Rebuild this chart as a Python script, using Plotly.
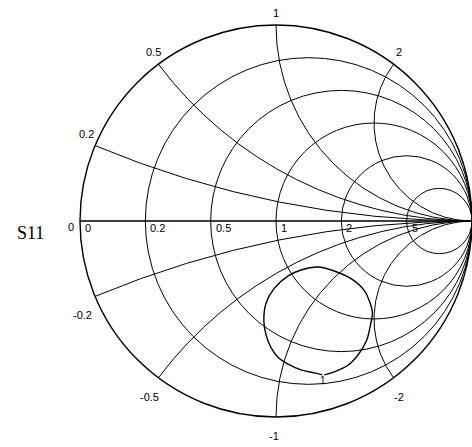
import numpy as np
import plotly.graph_objects as go

# Grid values of the Smith chart
resistance_ticks = [0, 0.2, 0.5, 1, 2, 5]
reactance_ticks = [-2, -1, -0.5, -0.2, 0.2, 0.5, 1, 2]

# S11 locus, read as reflection coefficient (real part, imaginary part)
s11_re = [0.246, 0.297, 0.369, 0.421, 0.462, 0.482, 0.492, 0.477, 0.451, 0.385,
          0.297, 0.215, 0.128, 0.062, -0.010, -0.051, -0.062, -0.051, -0.026,
          0.010, 0.062, 0.128, 0.195, 0.236]
s11_im = [-0.785, -0.770, -0.735, -0.680, -0.610, -0.530, -0.470, -0.410, -0.355,
          -0.295, -0.255, -0.235, -0.250, -0.280, -0.345, -0.420, -0.510, -0.580,
          -0.645, -0.695, -0.730, -0.760, -0.775, -0.785]

gamma = np.array(s11_re) + 1j * np.array(s11_im)
z = (1 + gamma) / (1 - gamma)

fig = go.Figure()
fig.add_trace(go.Scattersmith(
    real=z.real, imag=z.imag, mode="lines",
    line=dict(color="black", width=1.4, shape="spline"),
    showlegend=False, hoverinfo="skip",
))

W, H = 472, 447
cx, cy, rad = 276, 221, 196
label_font = dict(family="Liberation Sans, Arial, sans-serif", size=11, color="black")


def px_x(g):
    return (cx + g * rad) / W


def py_y(v):
    return 1 - v / H


annotations = []
# resistance labels sit just right of each circle's crossing with the real axis
for r in resistance_ticks:
    g = (r - 1) / (r + 1)
    annotations.append(dict(
        text=f"{r:g}", x=px_x(g) + 3 / W, y=py_y(228), xref="paper", yref="paper",
        xanchor="left", yanchor="middle", showarrow=False, font=label_font))
# zero reactance label on the outer rim
annotations.append(dict(
    text="0", x=px_x(-1) - 4 / W, y=py_y(227), xref="paper", yref="paper",
    xanchor="right", yanchor="middle", showarrow=False, font=label_font))
# reactance labels just outside the rim, where each arc meets it
for xv in reactance_ticks:
    g = (1j * xv - 1) / (1j * xv + 1)
    rim_x = cx + g.real * rad
    rim_y = cy - g.imag * rad
    if xv > 0:
        lx, ly = rim_x + 9 * g.real, rim_y - 12
    else:
        lx, ly = rim_x + 12 * g.real - 2, rim_y + 19
    annotations.append(dict(
        text=f"{xv:g}", x=lx / W, y=py_y(ly), xref="paper", yref="paper",
        xanchor="center", yanchor="middle", showarrow=False, font=label_font))
annotations += [
    dict(text="S11", x=30 / W, y=py_y(233), xref="paper", yref="paper",
         xanchor="center", yanchor="middle", showarrow=False,
         font=dict(family="Liberation Serif, serif", size=18, color="black")),
    dict(text="1", x=323 / W, y=py_y(380), xref="paper", yref="paper",
         xanchor="center", yanchor="middle", showarrow=False,
         font=dict(family="Liberation Sans, sans-serif", size=10, color="black")),
]

fig.update_layout(
    width=W, height=H,
    margin=dict(l=0, r=0, t=0, b=0),
    paper_bgcolor="white",
    font=label_font,
    smith=dict(
        bgcolor="white",
        domain=dict(x=[(cx - rad) / W, (cx + rad) / W],
                    y=[(H - cy - rad) / H, (H - cy + rad) / H]),
        realaxis=dict(
            tickvals=resistance_ticks[1:], ticks="", showticklabels=False,
            showgrid=True, gridcolor="black", gridwidth=1.4,
            showline=True, linecolor="black", linewidth=1.4,
        ),
        imaginaryaxis=dict(
            tickvals=reactance_ticks, ticks="", showticklabels=False,
            showgrid=True, gridcolor="black", gridwidth=1.4,
            showline=True, linecolor="black", linewidth=1.4,
        ),
    ),
    annotations=annotations,
)

fig.write_html("out.html")
